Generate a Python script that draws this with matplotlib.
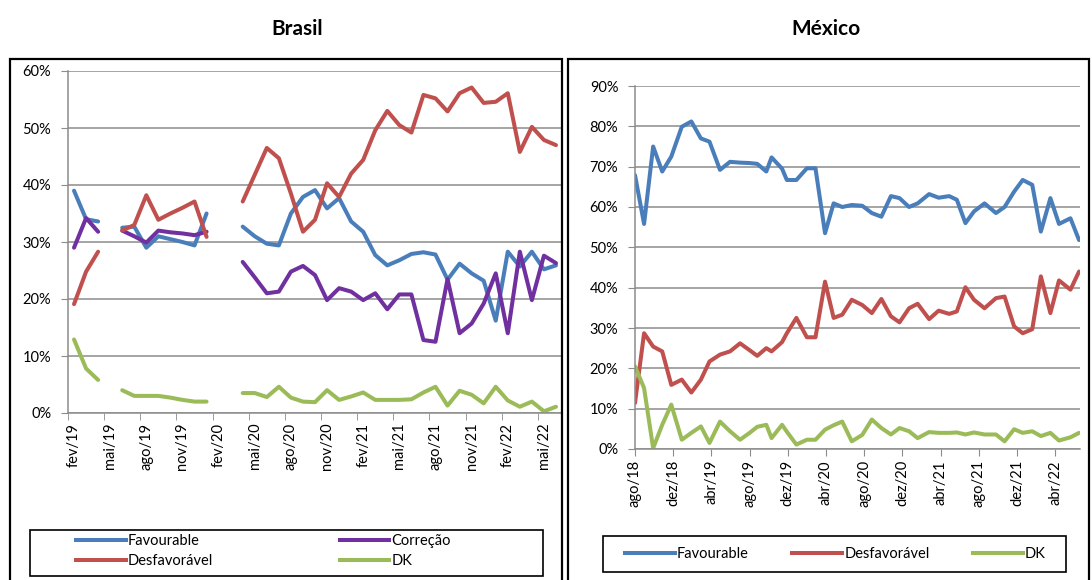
import numpy as np
import matplotlib
matplotlib.use('Agg')
import matplotlib.pyplot as plt
from matplotlib.patches import Rectangle
from matplotlib.lines import Line2D
from matplotlib.ticker import FuncFormatter

plt.rcParams['font.family'] = ['Lato', 'DejaVu Sans']

# ---- Brasil: monthly, fev/19 .. jun/22 (None = no survey) ----
br_months = np.arange(41)
br_favourable = [39.0, 34.0, 33.6, None, 32.5, 32.7, 29.0, 31.0, 30.5, 30.0, 29.4, 35.0,
                 None, None, 32.7, 31.0, 29.7, 29.4, 35.0, 37.9, 39.1, 35.9, 37.7, 33.6,
                 31.8, 27.7, 25.9, 26.8, 27.9, 28.2, 27.8, 23.4, 26.2, 24.5, 23.2, 16.2,
                 28.3, 25.7, 28.3, 25.2, 25.9]
br_correcao = [29.0, 34.2, 31.8, None, 32.0, 31.0, 29.9, 32.0, 31.7, 31.5, 31.2, 31.8,
               None, None, 26.5, 23.8, 21.0, 21.3, 24.8, 25.8, 24.2, 19.8, 21.9, 21.3,
               19.8, 21.0, 18.2, 20.8, 20.8, 12.8, 12.5, 23.5, 14.0, 15.7, 19.2, 24.5,
               14.0, 28.3, 19.8, 27.6, 26.3]
br_desfavoravel = [19.1, 24.8, 28.3, None, 32.0, 33.0, 38.2, 33.9, 35.0, 36.0, 37.1, 30.9,
                   None, None, 37.1, 41.8, 46.5, 44.7, 38.5, 31.8, 33.9, 40.3, 37.9, 42.0,
                   44.4, 49.6, 53.0, 50.5, 49.2, 55.8, 55.2, 52.9, 56.1, 57.1, 54.4, 54.6,
                   56.1, 45.8, 50.2, 47.9, 47.0]
br_dk = [12.9, 7.8, 5.8, None, 4.0, 3.0, 3.0, 3.0, 2.7, 2.3, 2.0, 2.0,
         None, None, 3.5, 3.5, 2.8, 4.6, 2.7, 2.0, 1.9, 4.0, 2.3, 2.9,
         3.6, 2.3, 2.3, 2.3, 2.4, 3.6, 4.6, 1.3, 3.9, 3.2, 1.7, 4.6,
         2.2, 1.1, 2.0, 0.3, 1.1]
br_tick_labels = ['fev/19', 'mai/19', 'ago/19', 'nov/19', 'fev/20', 'mai/20', 'ago/20',
                  'nov/20', 'fev/21', 'mai/21', 'ago/21', 'nov/21', 'fev/22', 'mai/22']

# ---- México: survey dates as months since ago/18 ----
mx_months = [0, 0.95, 1.9, 2.85, 3.8, 4.9, 5.9, 6.9, 7.8, 8.9, 9.95, 11.0,
             12.0, 12.8, 13.75, 14.3, 15.4, 15.9, 16.9, 18.0, 18.9, 19.9, 20.8, 21.7,
             22.7, 23.8, 24.8, 25.8, 26.8, 27.7, 28.7, 29.6, 30.8, 31.8, 32.9, 33.7,
             34.6, 35.5, 36.6, 37.8, 38.7, 39.7, 40.6, 41.6, 42.5, 43.5, 44.4, 45.6, 46.5]
mx_favourable = [67.9, 55.8, 75.0, 68.8, 72.5, 79.9, 81.2, 77.0, 76.2, 69.2, 71.2, 71.0,
                 70.9, 70.7, 68.8, 72.3, 69.5, 66.7, 66.7, 69.6, 69.6, 53.5, 60.9, 60.0,
                 60.5, 60.3, 58.5, 57.6, 62.7, 62.2, 60.0, 60.9, 63.2, 62.3, 62.7, 61.8,
                 56.0, 58.9, 60.9, 58.5, 60.0, 63.8, 66.7, 65.5, 53.9, 62.2, 55.8, 57.2, 51.8]
mx_desfavoravel = [11.4, 28.7, 25.4, 24.2, 15.9, 17.2, 14.0, 17.2, 21.7, 23.4, 24.2, 26.2,
                   24.5, 23.1, 25.0, 24.2, 26.5, 28.7, 32.5, 27.7, 27.7, 41.5, 32.5, 33.3,
                   37.0, 35.7, 33.7, 37.2, 32.9, 31.4, 34.9, 36.0, 32.2, 34.3, 33.5, 34.1,
                   40.1, 37.0, 34.9, 37.4, 37.8, 30.4, 28.7, 29.7, 42.8, 33.7, 41.8, 39.5, 44.0]
mx_dk = [20.5, 15.1, 0.2, 6.0, 11.0, 2.3, 4.0, 5.6, 1.5, 6.8, 4.4, 2.3,
         4.0, 5.5, 6.0, 2.7, 6.0, 4.3, 1.1, 2.3, 2.3, 4.8, 5.9, 6.8,
         1.9, 3.5, 7.3, 5.2, 3.6, 5.2, 4.4, 2.7, 4.2, 4.0, 4.0, 4.1,
         3.6, 4.1, 3.6, 3.6, 1.9, 4.9, 4.0, 4.4, 3.2, 4.0, 2.1, 2.9, 4.0]
mx_tick_labels = ['ago/18', 'dez/18', 'abr/19', 'ago/19', 'dez/19', 'abr/20',
                  'ago/20', 'dez/20', 'abr/21', 'ago/21', 'dez/21', 'abr/22']

BLUE = '#4a7ebb'
RED = '#c0504d'
PURPLE = '#7030a0'
GREEN = '#9bbb59'
GRID = '#8c8c8c'
LW = 2.9

W, H = 1092, 580


def px_rect(x0, y0, x1, y1):
    # pixel box (top-left origin) -> figure fraction [left, bottom, width, height]
    return [x0 / W, 1 - y1 / H, (x1 - x0) / W, (y1 - y0) / H]


def style_axes(ax, ymax):
    ax.set_ylim(0, ymax)
    ax.set_yticks(np.arange(0, ymax + 1, 10))
    ax.yaxis.set_major_formatter(FuncFormatter(lambda v, p: f'{v:.0f}%'))
    ax.grid(axis='y', color=GRID, lw=1.1)
    ax.set_axisbelow(True)
    for s in ['top', 'right']:
        ax.spines[s].set_visible(False)
    for s in ['left', 'bottom']:
        ax.spines[s].set_color(GRID)
        ax.spines[s].set_linewidth(1.1)
    ax.tick_params(axis='y', length=5, color=GRID, pad=7, labelsize=10.5)
    ax.tick_params(axis='x', which='major', labelsize=10.5, rotation=90)


fig = plt.figure(figsize=(W / 100, H / 100), dpi=100)

# outer frames
for x0, x1 in [(10, 562), (568, 1089)]:
    fig.add_artist(Rectangle((x0 / W, -0.05), (x1 - x0) / W, 1.05 - 59 / H,
                             transform=fig.transFigure, fill=False, ec='black', lw=1.6))

fig.text(297 / W, 1 - 29 / H, 'Brasil', ha='center', va='center', fontsize=15, fontweight='bold')
fig.text(826 / W, 1 - 29 / H, 'México', ha='center', va='center', fontsize=15, fontweight='bold')

# ---- Brasil ----
ax1 = fig.add_axes(px_rect(68, 71, 562, 413))
style_axes(ax1, 60)
line_kw = dict(lw=LW, solid_capstyle='round', solid_joinstyle='round')
for vals, col in [(br_favourable, BLUE), (br_correcao, PURPLE),
                  (br_desfavoravel, RED), (br_dk, GREEN)]:
    ax1.plot(br_months, np.array(vals, dtype=float), color=col, **line_kw)
ax1.set_xlim(-0.5, 40.5)
ax1.set_xticks(np.arange(0, 41, 3))
ax1.set_xticklabels(br_tick_labels)
ax1.set_xticks(np.arange(-0.5, 40, 3), minor=True)
ax1.tick_params(axis='x', which='major', length=0, pad=7)
ax1.tick_params(axis='x', which='minor', length=5, color=GRID)

# ---- México ----
ax2 = fig.add_axes(px_rect(635, 86, 1080, 449))
style_axes(ax2, 90)
for vals, col in [(mx_favourable, BLUE), (mx_desfavoravel, RED), (mx_dk, GREEN)]:
    ax2.plot(mx_months, vals, color=col, **line_kw)
ax2.set_xlim(0, 46.6)
ax2.set_xticks(np.arange(0, 45, 4))
ax2.set_xticklabels(mx_tick_labels)
ax2.tick_params(axis='x', which='major', length=5, color=GRID, pad=3)

# ---- legends ----
def handle(col):
    return Line2D([], [], color=col, lw=LW)

fig.add_artist(Rectangle((30 / W, 1 - 576 / H), 513 / W, 46 / H,
                         transform=fig.transFigure, fill=False, ec='black', lw=1.2))
fig.legend([handle(BLUE), handle(RED), handle(PURPLE), handle(GREEN)],
           ['Favourable', 'Desfavorável', 'Correção', 'DK'],
           ncol=2, loc='upper left', bbox_to_anchor=(76 / W, 1 - 534 / H),
           frameon=False, fontsize=10.5, handlelength=3.4, handletextpad=0.15,
           columnspacing=8.7, labelspacing=0.4, borderpad=0, borderaxespad=0)

fig.add_artist(Rectangle((603 / W, 1 - 572 / H), 463 / W, 36 / H,
                         transform=fig.transFigure, fill=False, ec='black', lw=1.2))
fig.legend([handle(BLUE), handle(RED), handle(GREEN)],
           ['Favourable', 'Desfavorável', 'DK'],
           ncol=3, loc='center left', bbox_to_anchor=(625 / W, 1 - 554 / H),
           frameon=False, fontsize=10.5, handlelength=3.4, handletextpad=0.15,
           columnspacing=3.0, borderpad=0, borderaxespad=0)

fig.savefig('out.png', dpi=100)
